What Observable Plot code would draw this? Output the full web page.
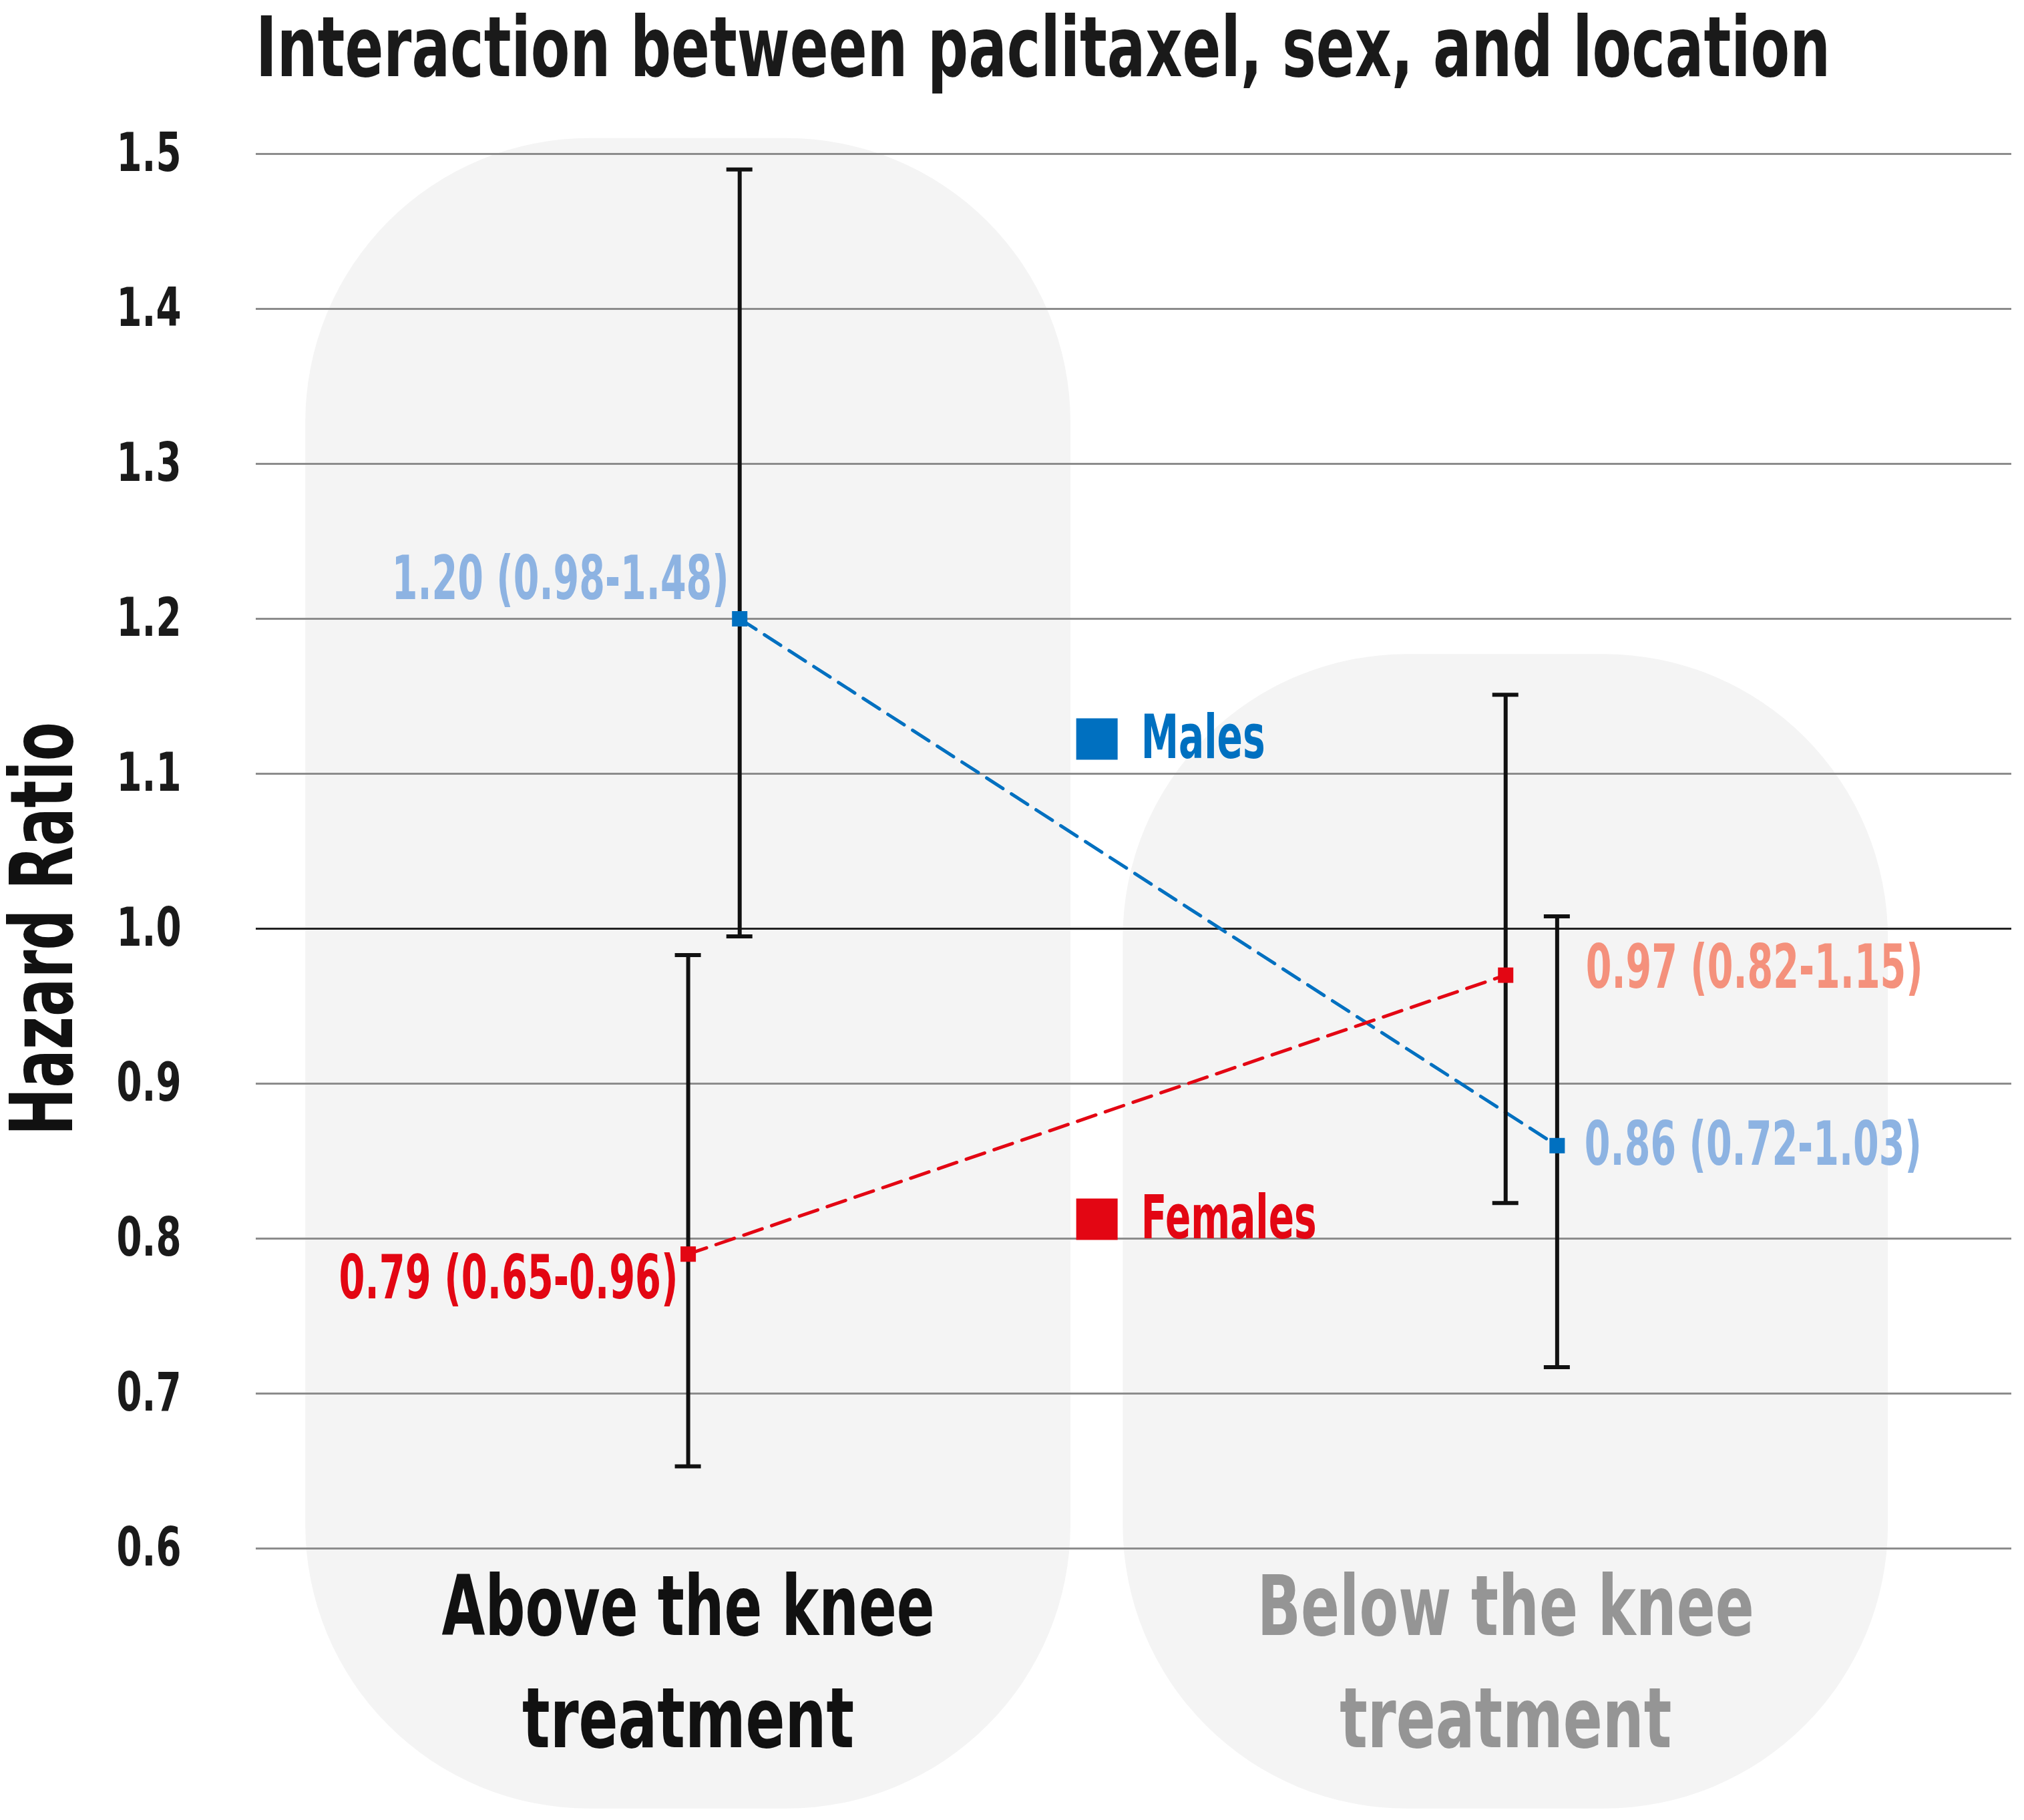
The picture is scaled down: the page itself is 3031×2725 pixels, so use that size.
<!DOCTYPE html>
<html>
<head>
<meta charset="utf-8">
<script src="https://cdn.jsdelivr.net/npm/d3@7"></script>
<script src="https://cdn.jsdelivr.net/npm/@observablehq/plot@0.6"></script>
<style>
  html, body { margin: 0; padding: 0; background: #ffffff; }
  #title {
    height: 170px; box-sizing: border-box;
    padding-left: 383px; padding-top: 6px;
    font-family: 'DejaVu Sans', sans-serif;
    font-weight: bold; font-size: 124px; line-height: 130px; color: #1a1a1a;
    white-space: nowrap; overflow: hidden;
  }
  #title span { display: inline-block; transform-origin: 0 50%; }
</style>
</head>
<body>
<div id="title"><span>Interaction between paclitaxel, sex, and location</span></div>
<div id="chart"></div>
<script>
// ---- data ----
const categoryLine1 = ["Above the knee", "Below the knee"];
const categoryLine2 = ["treatment", "treatment"];
const categoryColors = ["#111111", "#959595"];
const sexes = ["Males", "Females"];
const sexColors = ["#0070c0", "#e30613"];
const maleHR = [1.20, 0.86];
const maleLow = [0.995, 0.717];
const maleHigh = [1.49, 1.008];
const femaleHR = [0.79, 0.97];
const femaleLow = [0.653, 0.823];
const femaleHigh = [0.983, 1.151];
const maleLabels = ["1.20 (0.98-1.48)", "0.86 (0.72-1.03)"];
const femaleLabels = ["0.79 (0.65-0.96)", "0.97 (0.82-1.15)"];
const maleLabelColors = ["#8db3e2", "#8db3e2"];
const femaleLabelColors = ["#e30613", "#f4917c"];
const yTicks = [0.6, 0.7, 0.8, 0.9, 1.0, 1.1, 1.2, 1.3, 1.4, 1.5];
const yTitle = "Hazard Ratio";

// ---- layout ----
const W = 3031, H = 2555;
const mL = 383, mR = 19, mT = 60, mB = 407;
const maleOffset = 0.063;
const capHalfPx = 19.5;
const xDomain = [-0.5286, 1.619];
const pxPerX = (W - mL - mR) / (xDomain[1] - xDomain[0]);
const capHalf = capHalfPx / pxPerX;
const panelHalf = 0.468;
const panelTops = [1.51, 1.177];
const panelBottom = 0.432;
const legendX = 0.5;
const legendY = [1.1224, 0.8125];
const font = "'DejaVu Sans', sans-serif";
// target rendered widths (px) to emulate the condensed face of the original
const titleWidth = 2358;
const textWidths = {
  "Hazard Ratio": 619,
  "1.20 (0.98-1.48)": 505, "0.79 (0.65-0.96)": 508, "0.97 (0.82-1.15)": 505, "0.86 (0.72-1.03)": 505,
  "Males": 186, "Females": 263, "Above the knee": 738, "Below the knee": 744, "treatment": 497
};
const tickWidth = 97;

const rows = [];
categoryLine1.forEach((c, i) => {
  rows.push({i, sex: "Males", x: i + maleOffset, hr: maleHR[i], lo: maleLow[i], hi: maleHigh[i],
    label: maleLabels[i], labelColor: maleLabelColors[i], color: sexColors[0]});
  rows.push({i, sex: "Females", x: i, hr: femaleHR[i], lo: femaleLow[i], hi: femaleHigh[i],
    label: femaleLabels[i], labelColor: femaleLabelColors[i], color: sexColors[1]});
});
const panels = categoryLine1.map((c, i) => ({i, top: panelTops[i]}));
const males = rows.filter(d => d.sex === "Males");
const females = rows.filter(d => d.sex === "Females");
const labelPlace = {
  "Males0": [-16, -58, "end"],
  "Females0": [-15, 37, "end"],
  "Males1": [41, 0, "start"],
  "Females1": [120, -10, "start"]
};
const legend = sexes.map((s, k) => ({s, color: sexColors[k], y: legendY[k]}));
const catData = categoryLine1.map((l1, i) => ({i, l1, l2: categoryLine2[i], color: categoryColors[i]}));

const chart = Plot.plot({
  width: W, height: H,
  marginLeft: mL, marginRight: mR, marginTop: mT, marginBottom: mB,
  style: {fontFamily: font, background: "transparent", overflow: "visible"},
  x: {domain: xDomain, axis: null},
  y: {domain: [0.6, 1.5], axis: null},
  marks: [
    Plot.rect(panels, {x1: d => d.i - panelHalf, x2: d => d.i + panelHalf, y1: panelBottom, y2: d => d.top,
      fill: "#f4f4f4", rx: 425, ry: 425}),
    Plot.ruleY(yTicks.filter(d => d !== 1.0), {stroke: "#8c8c8c", strokeWidth: 3}),
    Plot.ruleY([1.0], {stroke: "#222222", strokeWidth: 3}),
    Plot.axisY(yTicks, {tickSize: 0, tickPadding: 112, fontSize: 80, fontWeight: "bold", fill: "#1a1a1a",
      tickFormat: d3.format(".1f"), label: null}),
    Plot.text([yTitle], {frameAnchor: "left", y: () => 1.0, rotate: -90, dx: -317, fontSize: 130,
      textAnchor: "middle", lineAnchor: "middle", fontWeight: "bold", fill: "#111111", text: d => d}),
    Plot.text(catData, {x: "i", frameAnchor: "bottom", dy: 89, lineAnchor: "middle",
      fontSize: 125, fontWeight: "bold", fill: "color", text: "l1"}),
    Plot.text(catData, {x: "i", frameAnchor: "bottom", dy: 257, lineAnchor: "middle",
      fontSize: 125, fontWeight: "bold", fill: "color", text: "l2"}),
    Plot.line(males, {x: "x", y: "hr", stroke: sexColors[0], strokeWidth: 5, strokeDasharray: "29,15"}),
    Plot.line(females, {x: "x", y: "hr", stroke: sexColors[1], strokeWidth: 5, strokeDasharray: "29,15"}),
    Plot.ruleX(rows, {x: "x", y1: "lo", y2: "hi", stroke: "#111111", strokeWidth: 6}),
    Plot.ruleY(rows, {y: "lo", x1: d => d.x - capHalf, x2: d => d.x + capHalf, stroke: "#111111", strokeWidth: 6}),
    Plot.ruleY(rows, {y: "hi", x1: d => d.x - capHalf, x2: d => d.x + capHalf, stroke: "#111111", strokeWidth: 6}),
    Plot.dot(rows, {x: "x", y: "hr", symbol: "square", r: 13, fill: d => d.color, stroke: null}),
    ...Object.entries(labelPlace).map(([key, [dx, dy, anchor]]) =>
      Plot.text(rows.filter(d => d.sex + d.i === key), {x: "x", y: "hr", text: "label", dx, dy, textAnchor: anchor,
        lineAnchor: "middle", fontSize: 90, fontWeight: "bold", fill: d => d.labelColor})),
    Plot.dot(legend, {x: () => legendX, y: "y", symbol: "square", r: 35, fill: "color"}),
    Plot.text(legend, {x: () => legendX, y: "y", text: "s", dx: 66, textAnchor: "start", lineAnchor: "middle",
      fontSize: 90, fontWeight: "bold", fill: "color"})
  ]
});
document.getElementById("chart").appendChild(chart);

// condense text to the widths of the original condensed typeface
d3.select(chart).selectAll("text").each(function () {
  const t = this.textContent;
  let w = textWidths[t];
  if (w === undefined && /^\d\.\d$/.test(t)) w = tickWidth;
  if (w !== undefined) {
    this.setAttribute("textLength", w);
    this.setAttribute("lengthAdjust", "spacingAndGlyphs");
  }
});
const span = document.querySelector("#title span");
const sw = span.getBoundingClientRect().width;
span.style.transform = `scaleX(${titleWidth / sw})`;
</script>
</body>
</html>
